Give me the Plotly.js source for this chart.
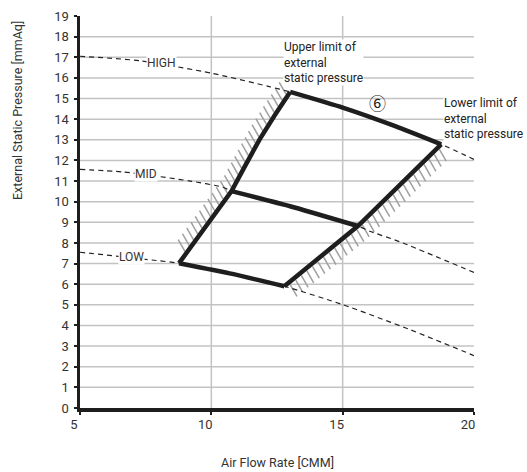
<!DOCTYPE html>
<html>
<head>
<meta charset="utf-8">
<script src="https://cdn.plot.ly/plotly-3.0.1.min.js"></script>
<style>html,body{margin:0;padding:0;background:#fff;}#chart{width:527px;height:472px;}</style>
</head>
<body>
<div id="chart"></div>
<script>
// ---- data ----
const highX = [5, 7.3, 10, 12.2, 13.0, 15, 17, 18.75, 20];
const highY = [17.05, 16.83, 16.23, 15.58, 15.32, 14.56, 13.66, 12.78, 12.05];
const midX  = [5, 6.65, 9.2, 10.45, 10.77, 13, 15.58, 16.03, 17.17, 20];
const midY  = [11.57, 11.44, 11.0, 10.7, 10.51, 9.78, 8.82, 8.57, 8.06, 6.57];
const lowX  = [5, 7.9, 8.77, 10.8, 12.78, 15, 17.5, 20];
const lowY  = [7.55, 7.15, 7.02, 6.5, 5.9, 5.01, 3.83, 2.54];

// operating range (6): upper limit (left edge) and lower limit (right edge)
const upperLimX = [8.77, 9.4, 10.0, 10.77, 11.27, 11.84, 12.42, 13.0];
const upperLimY = [7.02, 8.1, 9.15, 10.51, 11.7, 13.02, 14.2, 15.32];
const lowerLimX = [12.78, 15.58, 18.75];
const lowerLimY = [5.9, 8.82, 12.78];

const xTicks = [5, 10, 15, 20];
const yTicks = [0,1,2,3,4,5,6,7,8,9,10,11,12,13,14,15,16,17,18,19];
const gridX = [10, 15];
const gridY = [1,2,3,4,5,6,7,8,9,10,11,12,13,14,15,16,17,18];

const curveLabels = ["HIGH", "MID", "LOW"];
const curveLabelX = [8.1, 7.53, 6.96];
const curveLabelY = [16.7, 11.36, 7.33];

// ---- layout geometry ----
const W = 527, H = 472;
const M = {l: 80, r: 53, t: 16, b: 64};
const xRange = [5, 20], yRange = [0, 19];
const kx = (W - M.l - M.r) / (xRange[1] - xRange[0]);
const ky = (H - M.t - M.b) / (yRange[1] - yRange[0]);

function between(xs, ys, x0, x1) {
  const ox = [], oy = [];
  for (let i = 0; i < xs.length; i++) {
    if (xs[i] >= x0 - 1e-9 && xs[i] <= x1 + 1e-9) { ox.push(xs[i]); oy.push(ys[i]); }
  }
  return [ox, oy];
}

// hatch marks along an edge (computed from edge data)
function hatch(xs, ys, dirPx, stepPx, startPx, endPx) {
  const px = xs.map(v => v * kx), py = ys.map(v => -v * ky);
  const cum = [0];
  for (let i = 1; i < px.length; i++) cum.push(cum[i-1] + Math.hypot(px[i]-px[i-1], py[i]-py[i-1]));
  const total = cum[cum.length - 1];
  const hx = [], hy = [];
  for (let s = startPx; s <= total - endPx; s += stepPx) {
    let i = 1; while (i < cum.length - 1 && cum[i] < s) i++;
    const t = (s - cum[i-1]) / (cum[i] - cum[i-1]);
    const X = px[i-1] + t * (px[i] - px[i-1]);
    const Y = py[i-1] + t * (py[i] - py[i-1]);
    hx.push((X + dirPx[0] * 0.15) / kx, (X + dirPx[0]) / kx, null);
    hy.push(-(Y + dirPx[1] * 0.15) / ky, -(Y + dirPx[1]) / ky, null);
  }
  return [hx, hy];
}

const [lhX, lhY] = hatch(upperLimX, upperLimY, [-8, -14], 7.2, 12, 1);
const [rhX, rhY] = hatch(lowerLimX, lowerLimY, [8, 14], 7.2, 6, -3);

const [topX, topY] = between(highX, highY, upperLimX[upperLimX.length-1], lowerLimX[lowerLimX.length-1]);
const [botX, botY] = between(lowX, lowY, upperLimX[0], lowerLimX[0]);
const [mX, mY] = between(midX, midY, 10.77, 15.58);

const dash = {color: '#222', width: 1.2, dash: '5px,4px', shape: 'spline', smoothing: 0.6};
const thick = {color: '#1e1e1e', width: 4.5, shape: 'spline', smoothing: 0.5};
const thickLin = {color: '#1e1e1e', width: 4.5, shape: 'linear'};
const hatchLine = {color: '#a0a0a0', width: 1.5};

const traces = [
  {x: lhX, y: lhY, mode: 'lines', line: hatchLine, hoverinfo: 'skip'},
  {x: rhX, y: rhY, mode: 'lines', line: hatchLine, hoverinfo: 'skip'},
  {x: highX, y: highY, mode: 'lines', line: dash},
  {x: midX, y: midY, mode: 'lines', line: dash},
  {x: lowX, y: lowY, mode: 'lines', line: dash},
  {x: upperLimX, y: upperLimY, mode: 'lines', line: thickLin},
  {x: lowerLimX, y: lowerLimY, mode: 'lines', line: thickLin},
  {x: topX, y: topY, mode: 'lines', line: thick},
  {x: botX, y: botY, mode: 'lines', line: thick},
  {x: mX, y: mY, mode: 'lines', line: thick}
];

const shapes = [];
gridX.forEach(v => shapes.push({type: 'line', layer: 'below', xref: 'x', yref: 'paper', x0: v, x1: v, y0: 0, y1: 1, line: {color: '#c3c3c3', width: 1.5}}));
gridY.forEach(v => shapes.push({type: 'line', layer: 'below', xref: 'paper', yref: 'y', x0: 0, x1: 1, y0: v, y1: v, line: {color: '#c3c3c3', width: 1.5}}));

const FONT = 'Roboto, "Open Sans", sans-serif';
const annotations = [];
curveLabels.forEach((t, i) => annotations.push({
  x: curveLabelX[i], y: curveLabelY[i], xref: 'x', yref: 'y', text: t, showarrow: false,
  font: {family: FONT, size: 12, color: '#333'}, bgcolor: '#fff', borderpad: 0
}));
annotations.push({x: 12.71, y: 17.88, xref: 'x', yref: 'y', xanchor: 'left', yanchor: 'top', align: 'left',
  text: 'Upper limit of<br>external<br>static pressure', showarrow: false,
  font: {family: FONT, size: 12, color: '#222'}, bgcolor: '#fff', borderpad: 0});
annotations.push({x: 18.81, y: 15.16, xref: 'x', yref: 'y', xanchor: 'left', yanchor: 'top', align: 'left',
  text: 'Lower limit of<br>external<br>static pressure', showarrow: false,
  font: {family: FONT, size: 12, color: '#222'}, bgcolor: '#fff', borderpad: 0});
annotations.push({x: 16.34, y: 14.83, xref: 'x', yref: 'y', text: '⑥', showarrow: false,
  font: {family: '"Noto Sans CJK JP", "Noto Sans CJK SC", sans-serif', size: 17, color: '#222'}});
annotations.push({x: (18 - M.l) / (W - M.l - M.r), y: (H - M.b - 111) / (H - M.t - M.b), xref: 'paper', yref: 'paper',
  xanchor: 'center', yanchor: 'middle',
  text: 'External Static Pressure [mmAq]', textangle: -90, showarrow: false,
  font: {family: FONT, size: 12.5, color: '#333'}});
annotations.push({x: 0.5, y: -(462 - (H - M.b)) / (H - M.t - M.b), xref: 'paper', yref: 'paper',
  xanchor: 'center', yanchor: 'middle',
  text: 'Air Flow Rate [CMM]', showarrow: false,
  font: {family: FONT, size: 12.5, color: '#333'}});

const axisCommon = {
  showgrid: false, zeroline: false, showline: true, linecolor: '#1e1e1e', linewidth: 3.5,
  ticks: 'outside', ticklen: 3, tickwidth: 2, tickcolor: '#1e1e1e',
  tickfont: {family: FONT, size: 13, color: '#333'}, fixedrange: true
};

const layout = {
  width: W, height: H, margin: M, showlegend: false,
  paper_bgcolor: '#fff', plot_bgcolor: '#fff',
  xaxis: Object.assign({}, axisCommon, {range: xRange, tickvals: xTicks, ticktext: xTicks.map(String), ticklabelshift: -6, ticklabelstandoff: -1}),
  yaxis: Object.assign({}, axisCommon, {range: yRange, tickvals: yTicks, ticktext: yTicks.map(String), ticklabelstandoff: 2}),
  shapes: shapes, annotations: annotations
};

Plotly.newPlot('chart', traces, layout, {displayModeBar: false, staticPlot: true});
</script>
</body>
</html>
